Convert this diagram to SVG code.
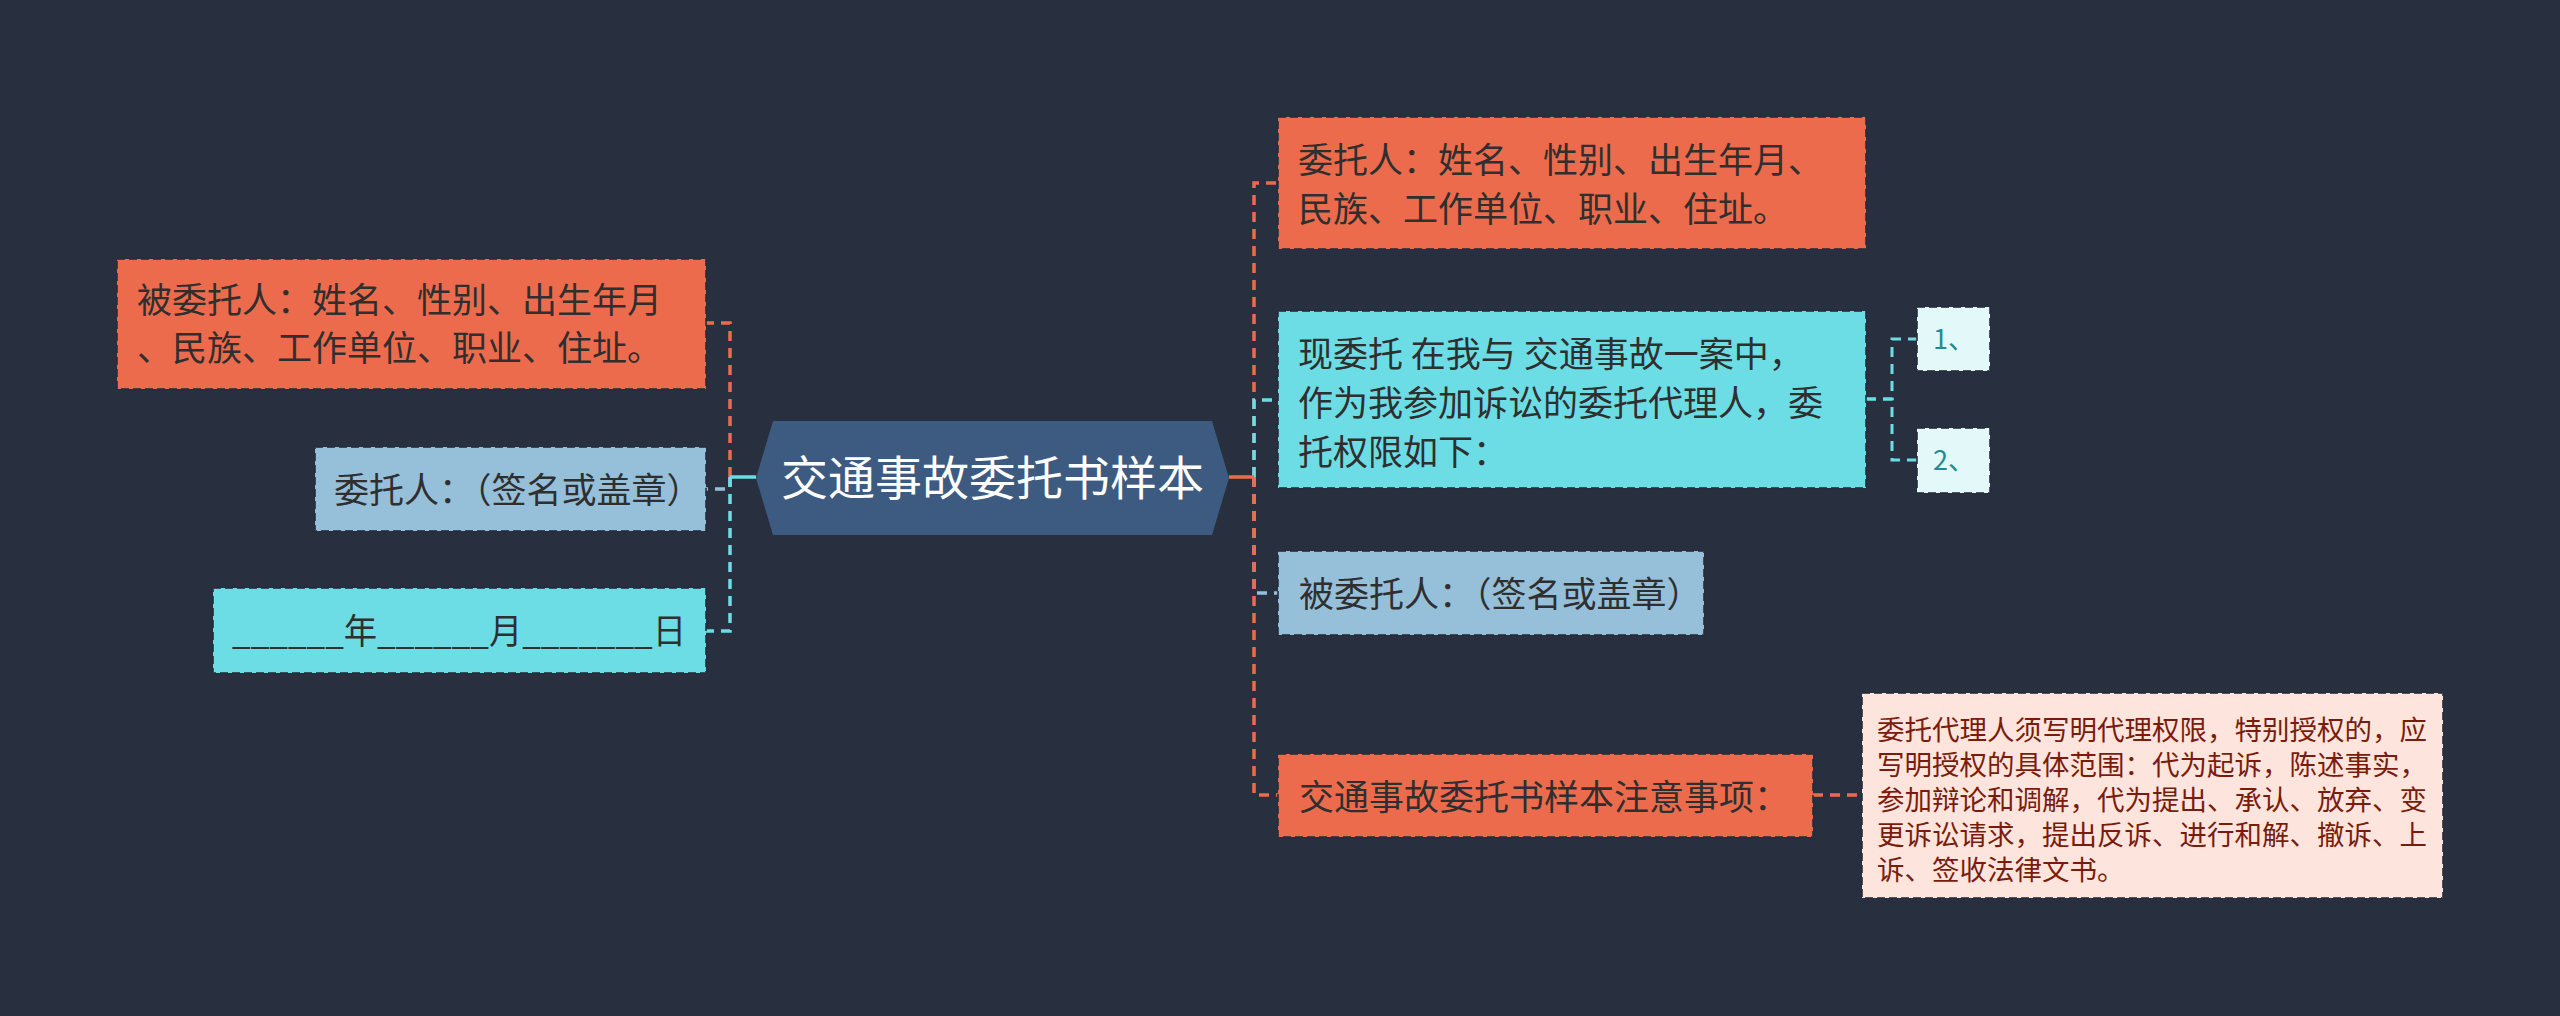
<svg xmlns="http://www.w3.org/2000/svg" width="2560" height="1016" viewBox="0 0 2560 1016">
<style>
text { font-family: "Noto Sans CJK SC", "Noto Sans", sans-serif; }
.t { font-size: 35px; fill: #2f2f2f; }
.box { stroke: #252c3a; stroke-width: 2; stroke-dasharray: 8 4; stroke-opacity: 0.8; }
.orange { fill: #ec6b4d; }
.lblue { fill: #96bfd9; }
.cyan { fill: #6cdde4; }
.conn { fill: none; stroke-width: 3.5; stroke-dasharray: 10 7; }
.solid { fill: none; stroke-width: 3.5; }
.so { stroke: #ec6b4d; }
.sb { stroke: #96bfd9; }
.sc { stroke: #6cdde4; }
</style>
<rect width="2560" height="1016" fill="#283040"/>
<g id="connectors">
  <path class="conn so" d="M730 477 V323 H706"/>
  <path class="conn sb" d="M730 477 V489 H706"/>
  <path class="conn sc" d="M730 477 V631 H706"/>
  <path class="solid sc" d="M756 477 H730"/>
  <path class="conn so" d="M1254 477 V183 H1278"/>
  <path class="conn sc" d="M1254 477 V400 H1278"/>
  <path class="conn sb" d="M1254 477 V593 H1278"/>
  <path class="conn so" d="M1254 477 V795 H1278"/>
  <path class="solid so" d="M1229 477 H1254"/>
  <path class="conn so" d="M1813 795 H1862"/>
  <path class="conn sc" style="stroke-width:3" d="M1866 399 H1892 V339 H1917"/>
  <path class="conn sc" style="stroke-width:3" d="M1866 399 H1892 V460 H1917"/>
</g>
<g id="center">
  <polygon points="756,478 773,421 1212,421 1229,478 1212,535 773,535" fill="#3d5a80"/>
  <text x="992.5" y="495" text-anchor="middle" font-size="47" fill="#ffffff">交通事故委托书样本</text>
</g>
<g id="left1">
  <rect class="box orange" x="117" y="259" width="589" height="130"/>
  <text class="t" x="137" y="313">被委托人：姓名、性别、出生年月</text>
  <text class="t" x="137" y="361">、民族、工作单位、职业、住址。</text>
</g>
<g id="left2">
  <rect class="box lblue" x="315" y="447" width="391" height="84"/>
  <text class="t" x="334" y="503">委托人：（签名或盖章）</text>
</g>
<g id="left3">
  <rect class="box cyan" x="213" y="588" width="493" height="85"/>
  <text class="t" x="232" y="644" textLength="454" lengthAdjust="spacingAndGlyphs">______年______月_______日</text>
</g>
<g id="right1">
  <rect class="box orange" x="1278" y="117" width="588" height="132"/>
  <text class="t" x="1298" y="173">委托人：姓名、性别、出生年月、</text>
  <text class="t" x="1298" y="222">民族、工作单位、职业、住址。</text>
</g>
<g id="right2">
  <rect class="box cyan" x="1278" y="311" width="588" height="177"/>
  <text class="t" x="1298" y="367">现委托 在我与 交通事故一案中，</text>
  <text class="t" x="1298" y="416">作为我参加诉讼的委托代理人，委</text>
  <text class="t" x="1298" y="465">托权限如下：</text>
</g>
<g id="right2a">
  <rect class="box" x="1917" y="307" width="73" height="64" fill="#e3f8f9"/>
  <text x="1933" y="349" font-size="27" fill="#1e8c92">1、</text>
</g>
<g id="right2b">
  <rect class="box" x="1917" y="428" width="73" height="65" fill="#e3f8f9"/>
  <text x="1933" y="470" font-size="27" fill="#1e8c92">2、</text>
</g>
<g id="right3">
  <rect class="box lblue" x="1278" y="551" width="426" height="84"/>
  <text class="t" x="1299" y="607">被委托人：（签名或盖章）</text>
</g>
<g id="right4">
  <rect class="box orange" x="1278" y="754" width="535" height="83"/>
  <text class="t" x="1299" y="810">交通事故委托书样本注意事项：</text>
</g>
<g id="note">
  <rect class="box" x="1862" y="693" width="581" height="205" fill="#fde4dd"/>
  <g font-size="27.5" fill="#7a1c0c">
    <text x="1877" y="740">委托代理人须写明代理权限，特别授权的，应</text>
    <text x="1877" y="775">写明授权的具体范围：代为起诉，陈述事实，</text>
    <text x="1877" y="810">参加辩论和调解，代为提出、承认、放弃、变</text>
    <text x="1877" y="845">更诉讼请求，提出反诉、进行和解、撤诉、上</text>
    <text x="1877" y="880">诉、签收法律文书。</text>
  </g>
</g>
</svg>
